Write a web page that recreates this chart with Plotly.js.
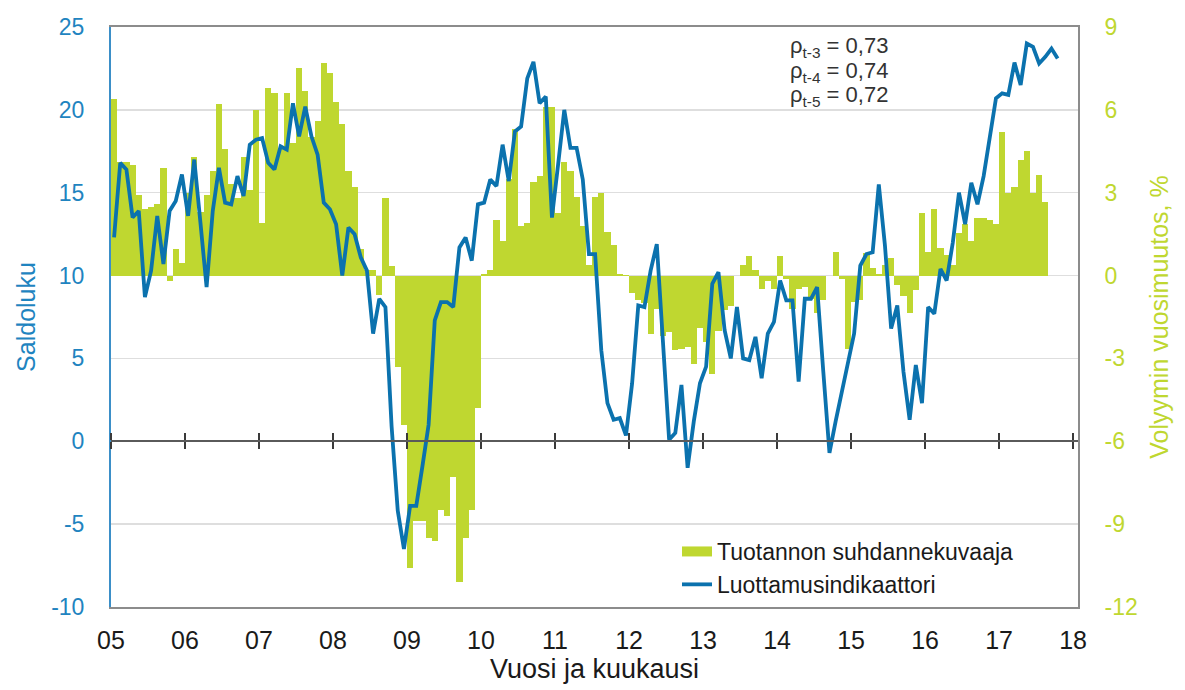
<!DOCTYPE html>
<html>
<head>
<meta charset="utf-8">
<script src="https://cdn.plot.ly/plotly-3.0.1.min.js"></script>
<style>
html,body{margin:0;padding:0;background:#ffffff;}
#chart{width:1185px;height:690px;}
</style>
</head>
<body>
<div id="chart"></div>
<script>
// Year tick labels (Jan of each year)
const yearLabels = ['05','06','07','08','09','10','11','12','13','14','15','16','17','18'];

// Left axis (saldoluku) ticks and labels
const leftTicks = [-10, -5, 0, 5, 10, 15, 20, 25];
const leftTickLabels = ['-10', '-5', '0', '5', '10', '15', '20', '25'];
// Right axis (volyymin vuosimuutos, %) ticks and labels
const rightTicks = [-12, -9, -6, -3, 0, 3, 6, 9];
const rightTickLabels = ['-12', '-9', '-6', '-3', '0', '3', '6', '9'];

// Luottamusindikaattori (saldoluku), monthly 2005-01 ... 2017-10
const confidence = [
  12.3, 16.8, 16.4, 13.5, 13.9, 8.7, 10.3, 13.6, 10.7, 13.9, 14.5, 16.1,
  13.6, 17.0, 13.2, 9.3, 13.9, 16.5, 14.4, 14.3, 16.0, 14.8, 17.9, 18.2,
  18.3, 16.8, 16.4, 17.8, 17.6, 20.4, 18.4, 20.2, 18.4, 17.3, 14.4, 14.0,
  13.1, 10.0, 12.9, 12.5, 11.1, 10.3, 6.5, 8.6, 8.1, 0.9, -4.2, -6.5,
  -3.9, -3.9, -1.5, 1.0, 7.3, 8.4, 8.4, 8.1, 11.7, 12.3, 10.9, 14.3,
  14.4, 15.8, 15.4, 17.9, 15.7, 18.7, 19.0, 21.9, 22.9, 20.4, 20.8, 13.5,
  16.7, 20.0, 17.7, 17.7, 15.8, 11.3, 11.3, 5.5, 2.3, 1.3, 1.4, 0.35,
  3.5, 8.2, 8.1, 10.3, 11.9, 6.4, 0.1, 0.5, 3.4, -1.6, 1.2, 3.5,
  4.5, 9.5, 10.2, 6.7, 5.0, 8.1, 5.0, 4.9, 6.3, 3.8, 6.5, 7.2,
  9.7, 8.5, 8.5, 3.6, 8.6, 8.6, 9.3, 4.2, -0.7, 1.2, 2.9, 4.6,
  6.5, 10.6, 11.3, 11.4, 15.5, 11.8, 6.8, 8.2, 4.2, 1.3, 4.6, 2.3,
  8.1, 7.7, 10.4, 9.7, 12.0, 15.0, 13.1, 15.6, 14.3, 16.0, 18.3, 20.7,
  21.0, 20.9, 22.85, 21.5, 24.0, 23.8, 22.8, 23.2, 23.7, 23.1
];

// Tuotannon suhdannekuvaaja (volyymin vuosimuutos, %), monthly 2005-01 ... 2017-08
const production = [
  6.4, 4.1, 4.1, 4.0, 2.9, 2.4, 2.5, 2.6, 3.9, -0.2, 0.95, 0.45,
  3.0, 4.3, 2.3, 2.9, 3.8, 6.2, 4.6, 3.3, 2.8, 4.3, 3.1, 6.0,
  1.9, 6.8, 6.6, 4.6, 6.6, 4.8, 7.5, 6.7, 5.0, 5.6, 7.7, 7.35,
  6.3, 5.5, 3.8, 3.2, 0.97, 0.2, 0.2, -0.7, 2.8, 0.35, -3.3, -5.4,
  -10.6, -8.9, -8.9, -9.5, -9.6, -8.5, -8.7, -7.3, -11.1, -9.5, -8.5, -4.8,
  0.07, 0.2, 2.0, 1.25, 3.5, 5.3, 1.8, 1.9, 3.4, 3.6, 6.1, 6.1,
  2.25, 4.1, 3.8, 2.85, 1.8, 0.4, 2.85, 3.0, 1.56, 1.1, 0.07, 0.03,
  -0.63, -0.9, -1.0, -2.1, -1.2, -2.2, -2.05, -2.7, -2.67, -2.6, -3.2, -1.9,
  -2.4, -3.55, -2.0, -1.25, -1.1, 0, 0.4, 0.72, 0.2, -0.5, -0.2, -0.5,
  0.72, -0.14, -1.2, -0.5, -0.4, -0.85, -1.35, -0.9, 0, 0.85, -0.14, -2.65,
  -0.97, -0.9, 0.83, 0.28, 0.05, 0.4, 0.64, -0.33, -0.73, -1.36, -0.53, 2.25,
  0.85, 2.42, 1.0, 0.73, 0.4, 1.55, 1.85, 1.25, 2.1, 2.1, 2.0, 1.88,
  5.2, 3.0, 3.2, 4.2, 4.5, 3.0, 3.65, 2.67
];

const correlationLabels = ['t-3', 't-4', 't-5'];
const correlationValues = ['0,73', '0,74', '0,72'];

const seriesNames = ['Tuotannon suhdannekuvaaja', 'Luottamusindikaattori'];

// month index -> position in the middle of the month
const monthPos = arr => arr.map((_, i) => i + 0.5);
const yearTicks = yearLabels.map((_, k) => 12 * k);

const GREEN = '#bfd730';
const BLUE_LINE = '#0b72ae';
const BLUE_TEXT = '#1f84c0';
const FONT = 'Liberation Sans, Arial, sans-serif';
const XMAX = 156.8;

const traces = [
  {
    type: 'bar', x: monthPos(production), y: production, width: 1,
    marker: {color: GREEN, line: {width: 0}},
    xaxis: 'x', yaxis: 'y', showlegend: false, hoverinfo: 'skip'
  },
  {
    type: 'scatter', mode: 'lines', x: [null], y: [null],
    name: seriesNames[0], line: {color: GREEN, width: 14},
    xaxis: 'x', yaxis: 'y', hoverinfo: 'skip'
  },
  {
    type: 'scatter', mode: 'lines', x: monthPos(confidence), y: confidence,
    name: seriesNames[1], line: {color: BLUE_LINE, width: 3.8},
    xaxis: 'x', yaxis: 'y2', hoverinfo: 'skip'
  },
  {type: 'scatter', mode: 'lines', x: [null], y: [null], xaxis: 'x2', yaxis: 'y', showlegend: false, hoverinfo: 'skip'},
  {type: 'scatter', mode: 'lines', x: [null], y: [null], xaxis: 'x3', yaxis: 'y', showlegend: false, hoverinfo: 'skip'}
];

const zeroAxis = {
  overlaying: 'x', anchor: 'free', position: 10 / 35,
  range: [0, XMAX], tickmode: 'array', tickvals: yearTicks,
  ticks: 'outside', ticklen: 7, tickwidth: 2, tickcolor: '#3a3a3a',
  showticklabels: false, showline: true, linecolor: '#5a5a5a', linewidth: 2,
  showgrid: false, zeroline: false, fixedrange: true
};

const annotations = correlationLabels.map((lab, k) => ({
  xref: 'paper', yref: 'paper', x: (788 - 111) / 967, y: (607 - (47 + 24.5 * k)) / 580,
  xanchor: 'left', yanchor: 'middle', showarrow: false,
  text: 'ρ<sub>' + lab + '</sub> = ' + correlationValues[k],
  font: {family: FONT, size: 22, color: '#333333'}
}));

const layout = {
  width: 1185, height: 690,
  margin: {l: 111, r: 107, t: 27, b: 83, pad: 0},
  paper_bgcolor: '#ffffff', plot_bgcolor: '#ffffff',
  font: {family: FONT, size: 23, color: '#1a1a1a'},
  bargap: 0,
  showlegend: true,
  legend: {
    x: (677 - 111) / 967, y: (607 - 530) / 580, xanchor: 'left', yanchor: 'top',
    bgcolor: 'rgba(0,0,0,0)', borderwidth: 0, tracegroupgap: 0,
    font: {family: FONT, size: 23, color: '#1a1a1a'}
  },
  xaxis: {
    range: [0, XMAX], tickmode: 'array', tickvals: yearTicks, ticktext: yearLabels,
    ticks: '', showgrid: false, zeroline: false,
    showline: true, linecolor: '#8c8c8c', linewidth: 2, mirror: true,
    tickfont: {family: FONT, size: 25, color: '#1a1a1a'}, ticklabelstandoff: 10,
    title: {text: 'Vuosi ja kuukausi', font: {family: FONT, size: 27, color: '#1a1a1a'}, standoff: 6},
    fixedrange: true
  },
  xaxis2: Object.assign({}, zeroAxis, {side: 'bottom'}),
  xaxis3: Object.assign({}, zeroAxis, {side: 'top'}),
  yaxis: {
    side: 'right', range: [-12, 9], tickmode: 'array', tickvals: rightTicks, ticktext: rightTickLabels,
    showgrid: false, zeroline: false, ticks: '',
    showline: true, linecolor: '#8c8c8c', linewidth: 2,
    tickfont: {family: FONT, size: 23, color: GREEN}, ticklabelstandoff: 20,
    title: {text: 'Volyymin vuosimuutos, %', font: {family: FONT, size: 25, color: GREEN}, standoff: 14},
    fixedrange: true
  },
  yaxis2: {
    overlaying: 'y', side: 'left', range: [-10, 25], tickmode: 'array', tickvals: leftTicks, ticktext: leftTickLabels,
    showgrid: true, gridcolor: '#dedede', gridwidth: 1.5, zeroline: false, ticks: '',
    showline: true, linecolor: '#3b8fc8', linewidth: 2,
    tickfont: {family: FONT, size: 23, color: BLUE_TEXT}, ticklabelstandoff: 20,
    title: {text: 'Saldoluku', font: {family: FONT, size: 25, color: BLUE_TEXT}, standoff: 8},
    fixedrange: true
  },
  annotations: annotations
};

Plotly.newPlot('chart', traces, layout, {displayModeBar: false, staticPlot: true});
</script>
</body>
</html>
